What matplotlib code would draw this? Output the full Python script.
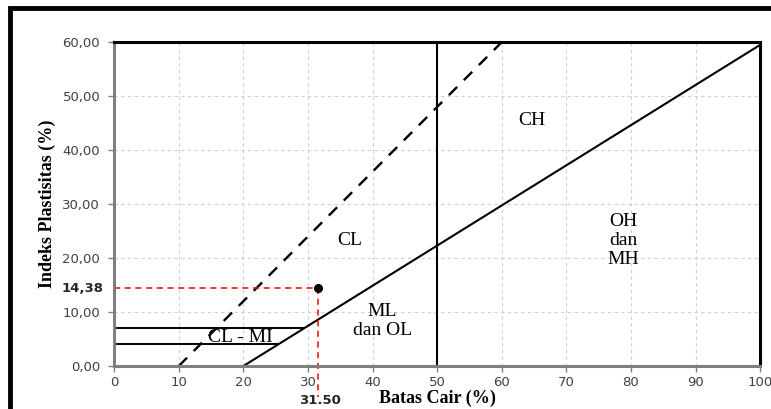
import matplotlib.pyplot as plt
from matplotlib.patches import Rectangle

# garis batas pada grafik plastisitas
a_line_x = [20, 100]
a_line_y = [0, 59.5]
u_line_x = [10, 60]
u_line_y = [0, 60]
ll_limit = 50
cl_ml_levels = [7, 4]

# titik sampel
sample_ll = 31.5
sample_pi = 14.38

x_ticks = list(range(0, 101, 10))
y_ticks = [0, 10, 20, 30, 40, 50, 60]

zones = ['CH', 'CL', 'OH\ndan\nMH', 'ML\ndan OL', 'CL - MI']
zone_x = [64.7, 36.4, 78.8, 41.5, 19.5]
zone_y = [45.5, 23.3, 23.3, 8.3, 5.2]

serif = 'Liberation Serif'

fig = plt.figure(figsize=(7.71, 4.09), dpi=100)
ax = fig.add_axes([0.148, 0.105, 0.838, 0.792])

ax.set_xlim(0, 100)
ax.set_ylim(0, 60)
ax.set_xticks(x_ticks)
ax.set_yticks(y_ticks)
ax.set_yticklabels([f'{v:.2f}'.replace('.', ',') for v in y_ticks])
ax.tick_params(labelsize=9.5, labelcolor='#404040', color='#808080', length=4, width=1)
ax.tick_params(axis='y', pad=6)
ax.grid(True, linestyle=(0, (3, 3)), color='#d0d0d0', linewidth=0.8)
ax.set_axisbelow(True)

for s in ['left', 'bottom']:
    ax.spines[s].set_color('#7f7f7f')
    ax.spines[s].set_linewidth(2.2)
for s in ['top', 'right']:
    ax.spines[s].set_color('black')
    ax.spines[s].set_linewidth(2.2)

# A-line dan U-line
ax.plot(a_line_x, a_line_y, color='black', lw=1.5)
ax.plot(u_line_x, u_line_y, color='black', lw=1.7, linestyle=(0, (5, 4)))
ax.plot([ll_limit, ll_limit], [0, 60], color='black', lw=1.5)

# garis horizontal CL-MI sampai memotong A-line
slope = (a_line_y[1] - a_line_y[0]) / (a_line_x[1] - a_line_x[0])
for lv in cl_ml_levels:
    ax.plot([0, a_line_x[0] + lv / slope], [lv, lv], color='black', lw=1.4)

# titik sampel dan garis bantu merah
ax.plot([0, sample_ll], [sample_pi, sample_pi], color='red', lw=1.1, linestyle=(0, (4, 3)))
ax.plot([sample_ll, sample_ll], [sample_pi, -5.8], color='red', lw=1.1, linestyle=(0, (4, 3)), clip_on=False)
ax.plot(sample_ll, sample_pi, 'o', color='black', markersize=5.5, zorder=5)

ax.text(-1.7, sample_pi, f'{sample_pi:.2f}'.replace('.', ','), ha='right', va='center',
        fontsize=9.5, fontweight='bold', color='#262626')
ax.text(sample_ll + 0.3, -7.6, f'{sample_ll:.2f}', ha='center', va='bottom',
        fontsize=9.5, fontweight='bold', color='#262626')

for name, zx, zy in zip(zones, zone_x, zone_y):
    ax.text(zx, zy, name, ha='center', va='center', fontsize=14,
            family=serif, linespacing=1.15)

ax.set_xlabel('Batas Cair (%)', family=serif, fontweight='bold', fontsize=13, labelpad=0)
ax.set_ylabel('Indeks Plastisitas (%)', family=serif, fontweight='bold', fontsize=13, labelpad=5)

# bingkai luar
fig.patches.append(Rectangle((0.013, -0.05), 1.05, 1.03, transform=fig.transFigure,
                             fill=False, edgecolor='black', linewidth=3.5))

fig.savefig('out.png', dpi=100)
